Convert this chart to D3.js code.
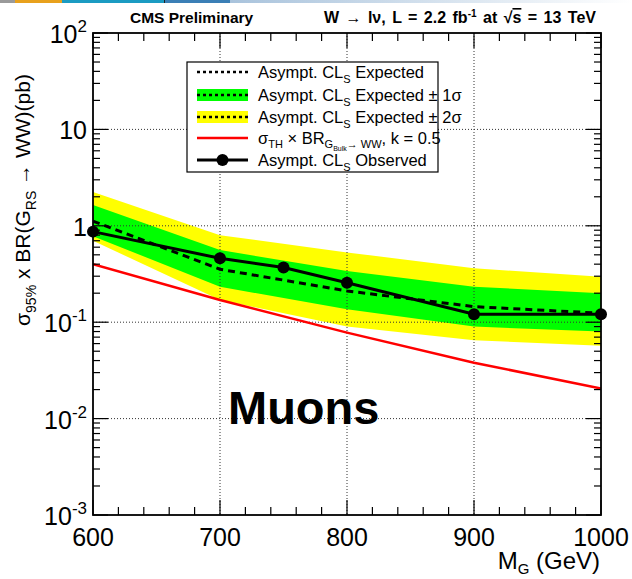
<!DOCTYPE html>
<html>
<head>
<meta charset="utf-8">
<script src="https://cdn.jsdelivr.net/npm/d3@7"></script>
<style>
  html, body { margin: 0; padding: 0; background: #fff; }
  svg { display: block; font-family: "Liberation Sans", Arial, Helvetica, sans-serif; }
</style>
</head>
<body>
<svg id="chart" width="632" height="579"></svg>
<script>
// Mass points of the expected limit and its bands (GeV)
const massPoints = [600, 700, 800, 900, 1000];
// Expected limit and ±1σ / ±2σ bands (pb)
const expected = [1.12, 0.354, 0.211, 0.145, 0.124];
const exp1Up   = [1.64, 0.56, 0.34, 0.233, 0.200];
const exp1Down = [0.78, 0.233, 0.136, 0.090, 0.080];
const exp2Up   = [2.24, 0.80, 0.53, 0.362, 0.297];
const exp2Down = [0.70, 0.170, 0.090, 0.065, 0.057];
// Observed limit
const obsMass  = [600, 700, 750, 800, 900, 1000];
const observed = [0.87, 0.46, 0.37, 0.257, 0.121, 0.121];
// Theory cross section, k = 0.5
const theoryMass = [600, 700, 800, 900, 1000];
const theory     = [0.40, 0.170, 0.078, 0.038, 0.0205];

// Axis ticks and labels
const xMajor = [600, 700, 800, 900, 1000];
const xLabels = ["600", "700", "800", "900", "1000"];
const yMajor = [100, 10, 1, 0.1, 0.01, 0.001];
const yLabelBase = ["10", "10", "1", "10", "10", "10"];
const yLabelExp  = ["2", "", "", "-1", "-2", "-3"];

const svg = d3.select("#chart");
const L = 93, R = 601, T = 33, B = 515;

const x = d3.scaleLinear().domain([600, 1000]).range([L, R]);
const y = d3.scaleLog().domain([0.001, 100]).range([B, T]);

// slide decoration strip along the top edge
const strip = [
  {x0: 0, x1: 15, c: "#9a9a9a"},
  {x0: 15, x1: 62, c: "#e8a11c"},
  {x0: 62, x1: 164, c: "#1b9bc2"},
  {x0: 164, x1: 165, c: "#222"},
  {x0: 165, x1: 230, c: "#3b7fb6"}
];
const defs = svg.append("defs");
const grad = defs.append("linearGradient").attr("id", "fade");
grad.append("stop").attr("offset", "0%").attr("stop-color", "#a9c3dc");
grad.append("stop").attr("offset", "100%").attr("stop-color", "#ffffff");
svg.append("rect").attr("x", 230).attr("y", 0).attr("width", 402).attr("height", 3).attr("fill", "url(#fade)");
svg.selectAll("rect.strip").data(strip).join("rect").attr("class", "strip")
  .attr("x", d => d.x0).attr("y", 0).attr("width", d => d.x1 - d.x0).attr("height", 3).attr("fill", d => d.c);

const clip = defs.append("clipPath").attr("id", "frame");
clip.append("rect").attr("x", L).attr("y", T).attr("width", R - L).attr("height", B - T);
const plot = svg.append("g").attr("clip-path", "url(#frame)");

// bands
const bandIdx = d3.range(massPoints.length);
const area = (up, dn) => d3.area()
  .x(i => x(massPoints[i])).y0(i => y(dn[i])).y1(i => y(up[i]));
plot.append("path").datum(bandIdx).attr("d", area(exp2Up, exp2Down)).attr("fill", "#ffff00");
plot.append("path").datum(bandIdx).attr("d", area(exp1Up, exp1Down)).attr("fill", "#00ff00");

// grid (dotted)
const grid = plot.append("g").attr("stroke", "#333").attr("stroke-width", 1).attr("stroke-dasharray", "1,2");
grid.selectAll("line.gx").data(xMajor.slice(1, -1)).join("line").attr("class", "gx")
  .attr("x1", d => x(d)).attr("x2", d => x(d)).attr("y1", T).attr("y2", B);
grid.selectAll("line.gy").data(yMajor.slice(1, -1)).join("line").attr("class", "gy")
  .attr("x1", L).attr("x2", R).attr("y1", d => y(d)).attr("y2", d => y(d));

// theory line
plot.append("path").datum(d3.range(theory.length))
  .attr("d", d3.line().x(i => x(theoryMass[i])).y(i => y(theory[i])))
  .attr("fill", "none").attr("stroke", "#ff0000").attr("stroke-width", 2.5);

// expected
plot.append("path").datum(bandIdx)
  .attr("d", d3.line().x(i => x(massPoints[i])).y(i => y(expected[i])))
  .attr("fill", "none").attr("stroke", "#000").attr("stroke-width", 3).attr("stroke-dasharray", "7,5");

// observed
svg.append("path").datum(d3.range(observed.length))
  .attr("d", d3.line().x(i => x(obsMass[i])).y(i => y(observed[i])))
  .attr("fill", "none").attr("stroke", "#000").attr("stroke-width", 3);
svg.selectAll("circle.obs").data(d3.range(observed.length)).join("circle").attr("class", "obs")
  .attr("cx", i => x(obsMass[i])).attr("cy", i => y(observed[i])).attr("r", 6).attr("fill", "#000");

// frame and ticks (pointing inward)
const axG = svg.append("g").attr("stroke", "#000");
const xMinor = d3.range(600, 1001, 20);
const yMinor = y.ticks().filter(v => yMajor.indexOf(v) < 0);
[[B, -1], [T, 1]].forEach(([yy, dir]) => {
  axG.selectAll(null).data(xMinor).join("line")
    .attr("x1", d => x(d)).attr("x2", d => x(d))
    .attr("y1", yy).attr("y2", d => yy + dir * (xMajor.includes(d) ? 15 : 8)).attr("stroke-width", 1.2);
});
[[L, 1], [R, -1]].forEach(([xx, dir]) => {
  axG.selectAll(null).data(yMinor.concat(yMajor)).join("line")
    .attr("y1", d => y(d)).attr("y2", d => y(d))
    .attr("x1", xx).attr("x2", d => xx + dir * (yMajor.includes(d) ? 15 : 7)).attr("stroke-width", 1.2);
});
svg.append("rect").attr("x", L).attr("y", T).attr("width", R - L).attr("height", B - T)
  .attr("fill", "none").attr("stroke", "#000").attr("stroke-width", 1.8);

// tick labels
svg.selectAll("text.xl").data(xMajor).join("text").attr("class", "xl")
  .attr("x", d => x(d)).attr("y", 546).attr("text-anchor", "middle")
  .attr("font-size", 25).text((d, i) => xLabels[i]);
const yl = svg.selectAll("text.yl").data(yMajor).join("text").attr("class", "yl")
  .attr("x", 87).attr("y", d => y(d) + 10).attr("text-anchor", "end").attr("font-size", 25);
yl.append("tspan").text((d, i) => yLabelBase[i]);
yl.append("tspan").attr("font-size", 17).attr("dy", -11).text((d, i) => yLabelExp[i]);

// axis titles
const xt = svg.append("text").attr("x", 600).attr("y", 569).attr("text-anchor", "end").attr("font-size", 24);
xt.append("tspan").text("M");
xt.append("tspan").attr("font-size", 15).attr("dy", 5).text("G");
xt.append("tspan").attr("dy", -5).text(" (GeV)");

const yt = svg.append("text").attr("transform", "translate(30,200) rotate(-90)")
  .attr("text-anchor", "middle").attr("font-size", 21);
yt.append("tspan").text("σ");
yt.append("tspan").attr("font-size", 14).attr("dy", 6).text("95%");
yt.append("tspan").attr("dy", -6).text(" x BR(G");
yt.append("tspan").attr("font-size", 14).attr("dy", 6).text("RS");
yt.append("tspan").attr("dy", -6).text(" → WW)(pb)");

// header
svg.append("text").attr("x", 130).attr("y", 23).attr("font-size", 15.5).attr("font-weight", "bold").text("CMS Preliminary");
const hd = svg.append("text").attr("x", 596).attr("y", 23).attr("text-anchor", "end")
  .attr("font-size", 16).attr("font-weight", "bold").attr("word-spacing", 2);
hd.append("tspan").text("W  →  lν, L = 2.2 fb");
hd.append("tspan").attr("font-size", 10).attr("dy", -6).text("-1");
hd.append("tspan").attr("dy", 6).text(" at  √");
hd.append("tspan").attr("text-decoration", "overline").text("s");
hd.append("tspan").text(" = 13 TeV");

// label inside the plot
svg.append("text").attr("x", 228).attr("y", 424).attr("font-size", 47).attr("font-weight", "bold").text("Muons");

// legend
const lg = svg.append("g");
lg.append("rect").attr("x", 187).attr("y", 62).attr("width", 251).attr("height", 110)
  .attr("fill", "#fff").attr("stroke", "#000").attr("stroke-width", 1.2);
const rows = [72, 95, 117, 138, 160];
const sx0 = 197, sx1 = 248, tx = 258;
lg.append("rect").attr("x", sx0).attr("y", rows[1] - 6).attr("width", sx1 - sx0).attr("height", 12).attr("fill", "#00ff00");
lg.append("rect").attr("x", sx0).attr("y", rows[2] - 6).attr("width", sx1 - sx0).attr("height", 12).attr("fill", "#ffff00");
[0, 1, 2].forEach(k => lg.append("line").attr("x1", sx0).attr("x2", sx1).attr("y1", rows[k]).attr("y2", rows[k])
  .attr("stroke", "#000").attr("stroke-width", 2.5).attr("stroke-dasharray", "3,3"));
lg.append("line").attr("x1", sx0).attr("x2", sx1).attr("y1", rows[3]).attr("y2", rows[3]).attr("stroke", "#ff0000").attr("stroke-width", 2.5);
lg.append("line").attr("x1", sx0).attr("x2", sx1).attr("y1", rows[4]).attr("y2", rows[4]).attr("stroke", "#000").attr("stroke-width", 3);
lg.append("circle").attr("cx", (sx0 + sx1) / 2).attr("cy", rows[4]).attr("r", 6).attr("fill", "#000");

function clsEntry(yy, suffix) {
  const t = lg.append("text").attr("x", tx).attr("y", yy + 6).attr("font-size", 16.5);
  t.append("tspan").text("Asympt. CL");
  t.append("tspan").attr("font-size", 11).attr("dy", 5).text("S");
  t.append("tspan").attr("dy", -5).text(" " + suffix);
}
clsEntry(rows[0], "Expected");
clsEntry(rows[1], "Expected ± 1σ");
clsEntry(rows[2], "Expected ± 2σ");
const th = lg.append("text").attr("x", tx).attr("y", rows[3] + 6).attr("font-size", 16.5);
th.append("tspan").text("σ");
th.append("tspan").attr("font-size", 11).attr("dy", 4).text("TH");
th.append("tspan").attr("dy", -4).text(" × BR");
th.append("tspan").attr("font-size", 11).attr("dy", 4).text("G");
th.append("tspan").attr("font-size", 7).attr("dy", 3).text("Bulk");
th.append("tspan").attr("font-size", 11).attr("dy", -3).text("→ WW");
th.append("tspan").attr("dy", -4).text(", k = 0.5");
clsEntry(rows[4], "Observed");
</script>
</body>
</html>
